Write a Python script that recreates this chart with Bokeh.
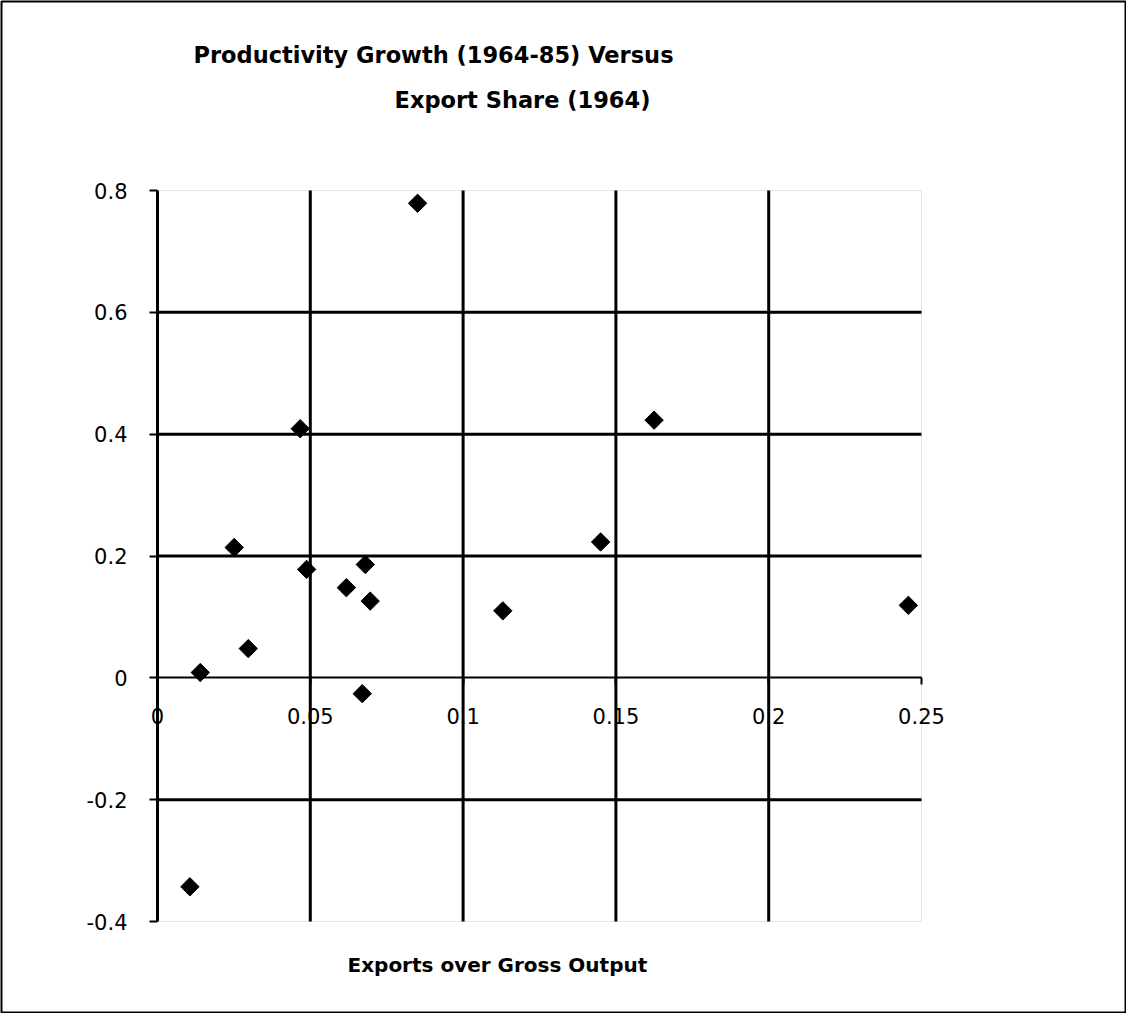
from bokeh.plotting import figure
from bokeh.models import Range1d, FixedTicker, Label, BoxAnnotation
from bokeh.embed import file_html
from bokeh.resources import INLINE
import numpy as np

# Data
export_share = [0.0851, 0.0467, 0.1625, 0.0251, 0.145, 0.0488, 0.068, 0.0618,
                0.0696, 0.113, 0.0297, 0.014, 0.067, 0.2457, 0.0106]
productivity_growth = [0.779, 0.409, 0.423, 0.214, 0.223, 0.178, 0.186, 0.148,
                       0.126, 0.11, 0.048, 0.0087, -0.026, 0.119, -0.343]

x_ticks = [0, 0.05, 0.1, 0.15, 0.2, 0.25]
x_tick_labels = ["0", "0.05", "0.1", "0.15", "0.2", "0.25"]
y_ticks = [-0.4, -0.2, 0, 0.2, 0.4, 0.6, 0.8]
y_tick_labels = ["-0.4", "-0.2", "0", "0.2", "0.4", "0.6", "0.8"]
x_grid = [0.05, 0.1, 0.15, 0.2]
y_grid = [-0.2, 0.2, 0.4, 0.6]
x_lo, x_hi = 0, 0.25
y_lo, y_hi = -0.4, 0.8

title_1 = "Productivity Growth (1964-85) Versus"
title_2 = "Export Share (1964)"
x_title = "Exports over Gross Output"

FONT = "DejaVu Sans"

# ---- layout (pixels, relative to the figure canvas) ----
W, H = 1126, 1013
PA_LEFT, PA_RIGHT = 157, 921     # plot area in canvas pixels
PA_TOP, PA_BOTTOM = 190, 921
sx = (PA_RIGHT - PA_LEFT) / (x_hi - x_lo)
sy = (PA_BOTTOM - PA_TOP) / (y_hi - y_lo)
MB = 1
x_start = x_lo - (PA_LEFT - MB) / sx
x_end = x_hi + (W - MB - PA_RIGHT) / sx
y_end = y_hi + (PA_TOP - MB) / sy
y_start = y_lo - (H - MB - PA_BOTTOM) / sy

p = figure(width=W, height=H, output_backend="svg", toolbar_location=None,
           x_range=Range1d(x_start, x_end), y_range=Range1d(y_start, y_end),
           title_location=None,
           min_border_left=MB, min_border_right=MB,
           min_border_top=MB, min_border_bottom=MB)

p.background_fill_color = "white"
p.border_fill_color = "white"
# frame outline acts as the outer border of the chart
p.outline_line_color = "black"
p.outline_line_width = 2
p.grid.visible = False

# dotted plot-area border
p.add_layout(BoxAnnotation(left=x_lo, right=x_hi, bottom=y_lo, top=y_hi,
                           fill_color=None, line_color="#606060",
                           line_width=1, line_dash="1 1", level="underlay"))

# grid lines limited to the plot area
n_xg, n_yg = len(x_grid), len(y_grid)
p.segment(x0=x_grid, y0=[y_lo] * n_xg, x1=x_grid, y1=[y_hi] * n_xg,
          line_color="black", line_width=3)
p.segment(x0=[x_lo] * n_yg, y0=y_grid, x1=[x_hi] * n_yg, y1=y_grid,
          line_color="black", line_width=3)

# x axis crossing at y = 0
xa = p.xaxis[0]
xa.fixed_location = 0
xa.bounds = (x_lo, x_hi)
xa.ticker = FixedTicker(ticks=x_ticks)
xa.major_label_overrides = dict(zip(x_ticks, x_tick_labels))
xa.axis_line_color = "black"
xa.axis_line_width = 2
xa.major_tick_in = 0
xa.major_tick_out = 7
xa.major_tick_line_width = 2
xa.minor_tick_line_color = None
xa.major_label_standoff = 23
xa.major_label_text_font = FONT
xa.major_label_text_font_size = "21px"
xa.major_label_text_color = "black"

# y axis at x = 0
ya = p.yaxis[0]
ya.fixed_location = 0
ya.bounds = (y_lo, y_hi)
ya.ticker = FixedTicker(ticks=y_ticks)
ya.major_label_overrides = dict(zip(y_ticks, y_tick_labels))
ya.axis_line_color = "black"
ya.axis_line_width = 3
ya.major_tick_in = 0
ya.major_tick_out = 8
ya.major_tick_line_width = 2
ya.minor_tick_line_color = None
ya.major_label_standoff = 22
ya.major_label_text_font = FONT
ya.major_label_text_font_size = "21px"
ya.major_label_text_color = "black"

p.scatter(export_share, productivity_growth, marker="square", size=13,
          angle=np.pi / 4, fill_color="black", line_color="black")

# titles
p.add_layout(Label(x=x_lo, y=y_hi, text=title_1,
                   x_offset=276, y_offset=136,
                   text_align="center", text_baseline="middle",
                   text_font=FONT, text_font_size="22.5px", text_font_style="bold",
                   text_color="black"))
p.add_layout(Label(x=x_lo, y=y_hi, text=title_2,
                   x_offset=365, y_offset=91,
                   text_align="center", text_baseline="middle",
                   text_font=FONT, text_font_size="22.5px", text_font_style="bold",
                   text_color="black"))
p.add_layout(Label(x=x_lo, y=y_lo, text=x_title,
                   x_offset=190, y_offset=-43,
                   text_align="left", text_baseline="middle",
                   text_font=FONT, text_font_size="20px", text_font_style="bold",
                   text_color="black"))

open("out.html", "w").write(file_html(p, INLINE))
